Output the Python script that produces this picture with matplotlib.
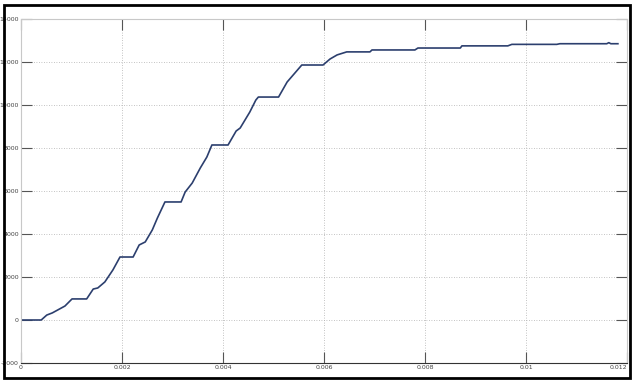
import matplotlib
matplotlib.use('Agg')
import matplotlib.pyplot as plt
from matplotlib.patches import Rectangle

# values
t = [0.0, 0.0004, 0.00051, 0.00062, 0.00087, 0.00101, 0.0013, 0.00143, 0.00152,
     0.00166, 0.00182, 0.00196, 0.00222, 0.00234, 0.00246, 0.0026, 0.0027,
     0.00285, 0.00317, 0.00325, 0.00339, 0.00355, 0.00368, 0.00378, 0.0041,
     0.00426, 0.00434, 0.00453, 0.00465, 0.0047, 0.0051, 0.00527, 0.00556,
     0.00598, 0.00612, 0.00626, 0.00645, 0.00691, 0.00695, 0.0078, 0.00786,
     0.0087, 0.00873, 0.00964, 0.00972, 0.01061, 0.01067, 0.0116, 0.01164,
     0.01168, 0.01182]
val = [0, 0, 230, 330, 650, 980, 980, 1440, 1490, 1770, 2330, 2930, 2930, 3490,
       3630, 4190, 4740, 5490, 5490, 5950, 6370, 7070, 7580, 8140, 8140, 8790,
       8930, 9670, 10230, 10370, 10370, 11070, 11860, 11860, 12140, 12330,
       12470, 12470, 12560, 12560, 12650, 12650, 12750, 12750, 12820, 12820,
       12850, 12850, 12900, 12850, 12850]

xticks = [0, 0.002, 0.004, 0.006, 0.008, 0.01, 0.012]
xlabels = ['0', '0.002', '0.004', '0.006', '0.008', '0.01', '0.012']
yticks = [-2000, 0, 2000, 4000, 6000, 8000, 10000, 12000, 14000]
ylabels = ['-2000', '0', '2000', '4000', '6000', '8000', '10000', '12000', '14000']


def main():
    plt.rcParams['font.family'] = ['Liberation Sans Narrow', 'DejaVu Sans']
    fig = plt.figure(figsize=(6.33, 3.83), dpi=100)
    ax = fig.add_axes([0.0332, 0.0522, 0.9573, 0.8982])

    ax.plot(t, val, color='#2c3f6e', linewidth=1.2)

    ax.set_xlim(0, 0.012)
    ax.set_ylim(-2000, 14000)
    ax.set_xticks(xticks)
    ax.set_xticklabels(xlabels)
    ax.set_yticks(yticks)
    ax.set_yticklabels(ylabels)
    # last x label would run into the frame, so pull it in
    ax.get_xticklabels()[-1].set_horizontalalignment('right')

    ax.grid(True, linestyle=(0, (1, 2)), color='#b0b0b0', linewidth=0.6)
    ax.tick_params(direction='in', length=8, width=0.8, color='#555555',
                   labelsize=4.5, labelcolor='#444444', pad=1.5,
                   top=True, right=True)
    for side in ['top', 'left', 'right']:
        ax.spines[side].set_color('#c8c8c8')
    ax.spines['bottom'].set_color('#333333')

    # black frame round the whole picture
    fig.patches.append(Rectangle((4 / 633, 5 / 383), 626 / 633, 373 / 383,
                                 transform=fig.transFigure, fill=False,
                                 edgecolor='black', linewidth=2))

    plt.savefig('out.png', dpi=100)
    plt.close()


if __name__ == "__main__":
    main()
